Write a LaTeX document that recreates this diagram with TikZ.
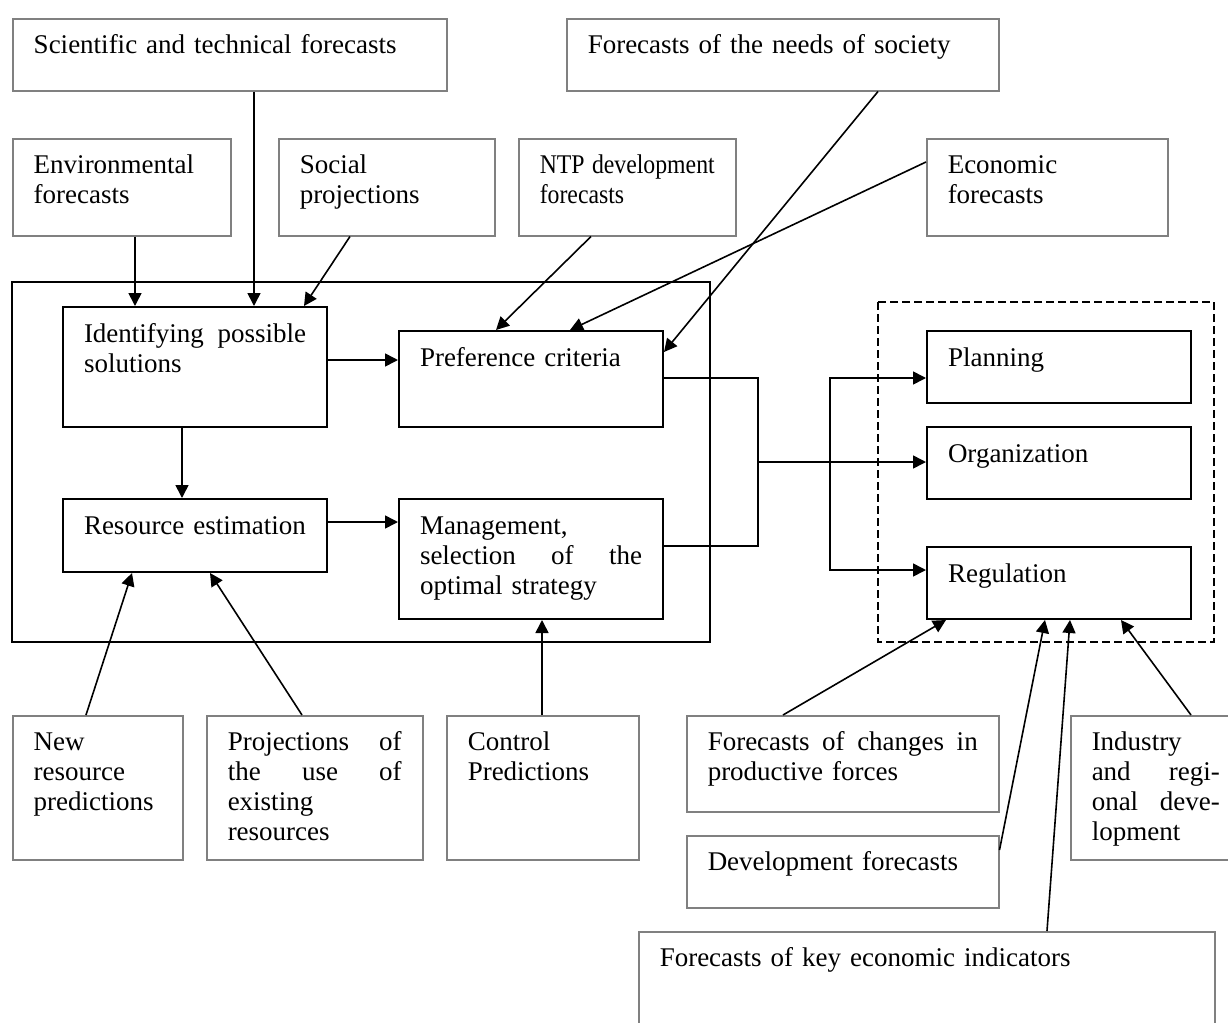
\documentclass[tikz,border=0pt]{standalone}
\usepackage{fontspec}
\setmainfont{Liberation Serif}
\newfontfamily\ntpfamily[FakeStretch=0.88]{Liberation Serif}
\usetikzlibrary{arrows.meta}
\newcommand{\fcfont}{\fontsize{13.5}{15}\selectfont}
\newcommand{\fcnarrow}{\ntpfamily\fontsize{13.5}{15}\selectfont}
\tikzset{
  fbox/.style={draw=black!50, line width=0.75pt, anchor=north west, align=left, inner xsep=10.5pt, inner ysep=8.5pt, text height=9pt, font=\fcfont},
  ibox/.style={fbox, draw=black, line width=1pt},
  arr/.style={-{Triangle[length=6.5pt,width=6.5pt]}, line width=0.8pt},
}
\begin{document}
\begin{tikzpicture}[x=0.5pt,y=0.5pt,yscale=-1,xscale=1]
\useasboundingbox (0,0) rectangle (1228,1023);

%Shape: Rectangle
\draw [line width=1pt] (12,282) rectangle (710,642) ;
%Shape: Rectangle
\draw [line width=0.8pt, dash pattern=on 4pt off 2pt] (878,302) rectangle (1214,642) ;

% Text Node
\node [fbox, text width=196pt, text depth=10pt] (sci) at (12,18) {Scientific and technical forecasts};
% Text Node
\node [fbox, text width=195pt, text depth=10pt] (needs) at (566,18) {Forecasts of the needs of society};
% Text Node
\node [fbox, text width=88pt, text depth=22.5pt] (env) at (12,138) {Environmental\\forecasts};
% Text Node
\node [fbox, text width=87pt, text depth=22.5pt] (social) at (278,138) {Social\\projections};
% Text Node
\node [fbox, text width=87.5pt, text depth=22.5pt, font=\fcnarrow] (ntp) at (518,138) {NTP\hfill development\\forecasts};
% Text Node
\node [fbox, text width=99.5pt, text depth=22.5pt] (econ) at (926,138) {Economic\\forecasts};

% Text Node
\node [ibox, text width=111pt, text depth=34pt] (ident) at (62,306) {Identifying\hfill possible\\solutions};
% Text Node
\node [ibox, text width=111pt, text depth=22pt] (pref) at (398,330) {Preference criteria};
% Text Node
\node [ibox, text width=111pt, text depth=10.5pt] (res) at (62,498) {Resource estimation};
% Text Node
\node [ibox, text width=111pt, text depth=34pt] (mgmt) at (398,498) {Management,\\selection\hfill of\hfill the\\optimal strategy};

% Text Node
\node [ibox, text width=111pt, text depth=10pt] (plan) at (926,330) {Planning};
% Text Node
\node [ibox, text width=111pt, text depth=10pt] (org) at (926,426) {Organization};
% Text Node
\node [ibox, text width=111pt, text depth=10pt] (reg) at (926,546) {Regulation};

% Text Node
\node [fbox, text width=64pt, text depth=46pt] (newres) at (12,715) {New\\resource\\predictions};
% Text Node
\node [fbox, text width=87pt, text depth=46pt] (proj) at (206,715) {Projections\hfill of\\the\hfill use\hfill of\\existing\\resources};
% Text Node
\node [fbox, text width=75pt, text depth=46pt] (control) at (446,715) {Control\\Predictions};
% Text Node
\node [fbox, text width=135pt, text depth=22pt] (prod) at (686,715) {Forecasts\hfill of\hfill changes\hfill in\\productive forces};
% Text Node
\node [fbox, text width=135pt, text depth=10pt] (devfc) at (686,835) {Development forecasts};
% Text Node
\node [fbox, text width=64pt, text depth=46pt] (industry) at (1070,715) {Industry\\and\hfill regi-\\onal\hfill deve-\\lopment};
% Text Node
\node [fbox, text width=267pt, text depth=29pt] (keyecon) at (638,931) {Forecasts of key economic indicators};

\coordinate (jn) at (758,462);
\coordinate (bus) at (830,462);

%Straight Lines
\draw [arr] (135,0 |- env.south) -- (135,0 |- ident.north) ;
\draw [arr] (254,0 |- sci.south) -- (254,0 |- ident.north) ;
\draw [arr] (350,0 |- social.south) -- (304,0 |- ident.north) ;
\draw [arr] (591,0 |- ntp.south) -- (496,0 |- pref.north) ;
\draw [arr] (econ.west |- 0,162) -- (570,0 |- pref.north) ;
\draw [arr] (878,0 |- needs.south) -- (pref.east |- 0,352) ;
\draw [arr] (ident.east |- 0,360) -- (pref.west |- 0,360) ;
\draw [arr] (182,0 |- ident.south) -- (182,0 |- res.north) ;
\draw [arr] (res.east |- 0,522) -- (mgmt.west |- 0,522) ;
\draw [arr] (86,0 |- newres.north) -- (132,0 |- res.south) ;
\draw [arr] (302,0 |- proj.north) -- (210,0 |- res.south) ;
\draw [arr] (542,0 |- control.north) -- (542,0 |- mgmt.south) ;

%Straight Lines
\draw [line width=0.8pt] (pref.east |- 0,378) -| (jn) |- (mgmt.east |- 0,546) ;
\draw [arr] (jn) -- (org.west |- jn) ;
\draw [arr] (bus) |- (plan.west |- 0,378) ;
\draw [arr] (bus) |- (reg.west |- 0,570) ;

%Straight Lines
\draw [arr] (783,0 |- prod.north) -- (946,0 |- reg.south) ;
\draw [arr] (devfc.east |- 0,850) -- (1045,0 |- reg.south) ;
\draw [arr] (1047,0 |- keyecon.north) -- (1070,0 |- reg.south) ;
\draw [arr] (1191,0 |- industry.north) -- (1121,0 |- reg.south) ;
\end{tikzpicture}
\end{document}
